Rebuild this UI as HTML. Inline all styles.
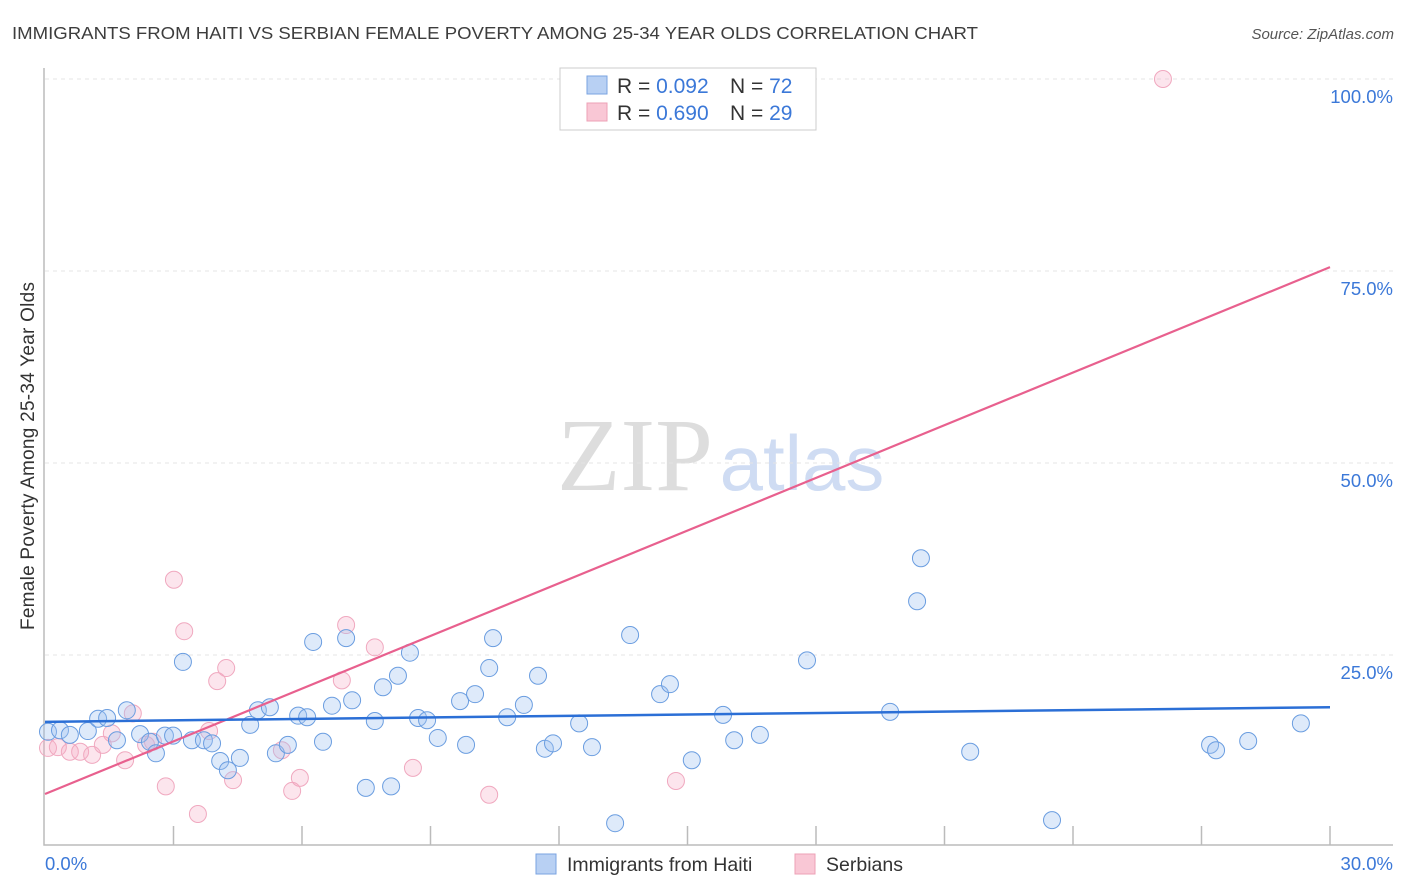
<!DOCTYPE html>
<html><head><meta charset="utf-8"><style>
body{margin:0;background:#fff;font-family:"Liberation Sans",sans-serif}
svg{display:block}
</style></head><body>
<svg id="c" width="1406" height="892" xmlns="http://www.w3.org/2000/svg">
<text x="12" y="39" font-size="17.5" fill="#3d3d3d" textLength="966" lengthAdjust="spacingAndGlyphs">IMMIGRANTS FROM HAITI VS SERBIAN FEMALE POVERTY AMONG 25-34 YEAR OLDS CORRELATION CHART</text>
<text x="1394" y="39" font-size="15" fill="#555" font-style="italic" text-anchor="end">Source: ZipAtlas.com</text>
<g>
<text x="635" y="490" font-size="104" fill="#ddd" font-family="Liberation Serif" text-anchor="middle">ZIP</text>
<text x="802" y="490" font-size="78" fill="#cfdcf3" text-anchor="middle">atlas</text>
</g>
<g id="grid"></g>
<g id="axes"></g>
<g id="marks"></g>
<text transform="translate(34,456) rotate(-90)" font-size="19" fill="#333" text-anchor="middle" textLength="348">Female Poverty Among 25-34 Year Olds</text>
<g>
<rect x="560" y="68" width="256" height="62" fill="#fff" stroke="#ccc"/>
<rect x="587" y="76" width="20" height="18" fill="#b8d0f3" stroke="#7aa3e0"/>
<rect x="587" y="103" width="20" height="18" fill="#f9c7d5" stroke="#eda0b6"/>
<text x="617" y="93" font-size="21" fill="#333">R = <tspan fill="#3b78d8">0.092</tspan></text>
<text x="730" y="93" font-size="21" fill="#333">N = <tspan fill="#3b78d8">72</tspan></text>
<text x="617" y="120" font-size="21" fill="#333">R = <tspan fill="#3b78d8">0.690</tspan></text>
<text x="730" y="120" font-size="21" fill="#333">N = <tspan fill="#3b78d8">29</tspan></text>
</g>
<g>
<rect x="536" y="854" width="20" height="20" fill="#b8d0f3" stroke="#7aa3e0"/>
<text x="567" y="871" font-size="19.5" fill="#333">Immigrants from Haiti</text>
<rect x="795" y="854" width="20" height="20" fill="#f9c7d5" stroke="#eda0b6"/>
<text x="826" y="871" font-size="19.5" fill="#333">Serbians</text>
</g>
</svg>
<script>
const yTicks=[25,50,75,100];
const yTickLabels=["25.0%","50.0%","75.0%","100.0%"];
const xTickLabels=["0.0%","30.0%"];
const haitiX=[0.07,0.35,0.58,1.0,1.24,1.45,1.68,1.91,2.22,2.45,2.59,2.80,2.99,3.22,3.43,3.71,3.90,4.09,4.27,4.55,4.79,4.97,5.25,5.39,5.67,5.91,6.12,6.26,6.49,6.70,7.03,7.17,7.49,7.70,7.89,8.08,8.24,8.52,8.71,8.92,9.17,9.69,9.83,10.04,10.37,10.46,10.79,11.18,11.51,11.67,11.86,12.47,12.77,13.31,13.66,14.36,14.59,15.10,15.83,16.09,16.69,17.79,19.73,20.36,20.45,21.60,23.51,27.20,27.34,28.09,29.32];
const haitiY=[15.0,15.2,14.6,15.1,16.7,16.8,13.9,17.8,14.7,13.7,12.2,14.5,14.5,24.1,13.9,13.9,13.5,11.2,10.0,11.6,15.9,17.8,18.2,12.2,13.3,17.1,16.9,26.7,13.7,18.4,27.2,19.1,7.7,16.4,20.8,7.9,22.3,25.3,16.8,16.5,14.2,19.0,13.3,19.9,23.3,27.2,16.9,18.5,22.3,12.8,13.5,16.1,13.0,3.1,27.6,19.9,21.2,11.3,17.2,13.9,14.6,24.3,17.6,32.0,37.6,12.4,3.5,13.3,12.6,13.8,16.1];
const serbX=[0.07,0.30,0.58,0.82,1.10,1.35,1.56,1.87,2.05,2.36,2.52,2.82,3.01,3.25,3.57,3.83,4.02,4.23,4.39,5.53,5.77,5.95,6.93,7.03,7.70,8.59,10.37,14.73,26.10];
const serbY=[12.9,13.0,12.4,12.4,12.0,13.3,14.8,11.3,17.4,13.3,13.7,7.9,34.8,28.1,4.3,15.1,21.6,23.3,8.7,12.6,7.3,9.0,21.7,28.9,26.0,10.3,6.8,8.6,100];
const haitiTrend=[16.3,18.2];
const serbTrend=[6.9,75.5];
const NS="http://www.w3.org/2000/svg";
const X=v=>45+v/30*1285, Y=v=>847-v*7.68;
function mk(t,a,p){const e=document.createElementNS(NS,t);for(const k in a)e.setAttribute(k,a[k]);p.appendChild(e);return e;}
const grid=document.getElementById('grid'),axes=document.getElementById('axes'),marks=document.getElementById('marks');
yTicks.forEach((t,i)=>{
 const l=mk('line',{x1:45,x2:1393,y1:Y(t),y2:Y(t),stroke:'#e4e4e4','stroke-dasharray':'4,4'},grid);
 
 
 const tx=mk('text',{x:1393,y:Y(t)+24,'font-size':18.5,fill:'#3b78d8','text-anchor':'end'},axes);
 tx.textContent=yTickLabels[i];
 
 
});
const ax=mk('path',{d:'M44,68V845H1393',fill:'none',stroke:'#bbb','stroke-width':1.5},axes);


for(let i=1;i<=10;i++){const t=mk('line',{x1:X(i*3),x2:X(i*3),y1:826,y2:845,stroke:'#bbb','stroke-width':1.5},axes);
 
 }
const xl0=mk('text',{x:45,y:870,'font-size':18.5,fill:'#3b78d8'},axes);xl0.textContent=xTickLabels[0];


const xl1=mk('text',{x:1393,y:870,'font-size':18.5,fill:'#3b78d8','text-anchor':'end'},axes);xl1.textContent=xTickLabels[1];


serbX.forEach((v,i)=>{const c=mk('circle',{cx:X(v),cy:Y(serbY[i]),r:8.5,fill:'rgba(246,170,195,0.3)',stroke:'#f0a8bf','stroke-width':1},marks);
 
 });
haitiX.forEach((v,i)=>{const c=mk('circle',{cx:X(v),cy:Y(haitiY[i]),r:8.5,fill:'rgba(160,195,240,0.35)',stroke:'#6a9de0','stroke-width':1},marks);
 
 });
const pl=mk('line',{x1:X(0),x2:X(30),y1:Y(serbTrend[0]),y2:Y(serbTrend[1]),stroke:'#e8608e','stroke-width':2.2},marks);


const bl=mk('line',{x1:X(0),x2:X(30),y1:Y(haitiTrend[0]),y2:Y(haitiTrend[1]),stroke:'#2b6fd6','stroke-width':2.5},marks);


</script>
</body></html>
